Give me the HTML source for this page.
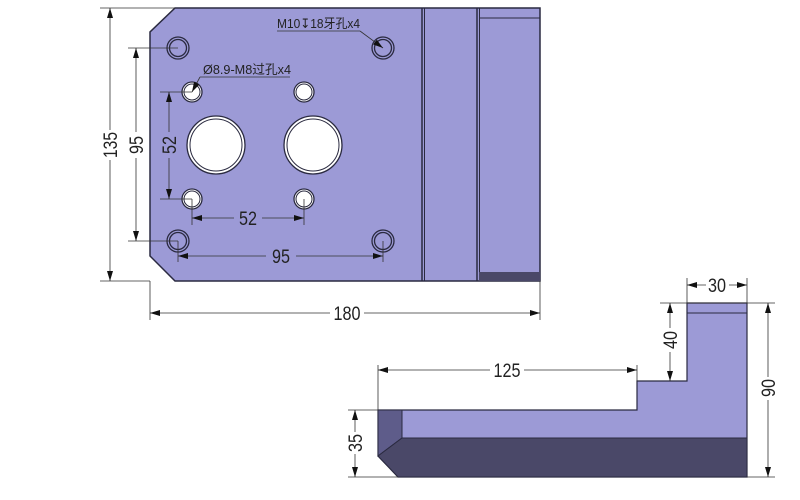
<!DOCTYPE html>
<html><head><meta charset="utf-8"><style>
html,body{margin:0;padding:0;background:#fff;}
svg{display:block;}
text{font-family:"Liberation Sans","Noto Sans CJK SC",sans-serif;fill:#222;}
</style></head><body>
<svg width="800" height="500" viewBox="0 0 800 500" xmlns="http://www.w3.org/2000/svg">
<defs>
<marker id="a" viewBox="0 0 10 6" refX="10" refY="3" markerWidth="10" markerHeight="6" orient="auto-start-reverse" markerUnits="userSpaceOnUse"><path d="M0,0 L10,3 L0,6 z" fill="#111"/></marker>
</defs>
<path d="M175,8 L540,8 L540,281 L175,281 L150,256 L150,32 Z" fill="#9c9ad6" stroke="#2a2a40" stroke-width="1.5"/>
<line x1="422" y1="8" x2="422" y2="281" stroke="#2a2a40" stroke-width="1.5"/>
<line x1="424.5" y1="8" x2="424.5" y2="281" stroke="#2a2a40" stroke-width="1"/>
<line x1="477" y1="8" x2="477" y2="281" stroke="#2a2a40" stroke-width="1.5"/>
<line x1="479.5" y1="8" x2="479.5" y2="281" stroke="#2a2a40" stroke-width="1"/>
<line x1="479" y1="18" x2="540" y2="18" stroke="#2a2a40" stroke-width="1"/>
<rect x="479" y="272" width="61" height="9" fill="#4a4868"/>
<g fill="none" stroke="#2a2a40" stroke-width="1.3">
<circle cx="178" cy="48" r="11"/><circle cx="178" cy="48" r="8.5"/>
<circle cx="383" cy="48" r="11"/><circle cx="383" cy="48" r="8.5"/>
<circle cx="178" cy="241" r="11"/><circle cx="178" cy="241" r="8.5"/>
<circle cx="383" cy="241" r="11"/><circle cx="383" cy="241" r="8.5"/>
</g>
<g fill="#fff" stroke="#2a2a40" stroke-width="1.3">
<circle cx="192" cy="92" r="10"/><circle cx="304" cy="92" r="10"/>
<circle cx="192" cy="199" r="10"/><circle cx="304" cy="199" r="10"/>
<circle cx="216" cy="145" r="29"/><circle cx="313" cy="145" r="29"/>
</g>
<g fill="none" stroke="#2a2a40" stroke-width="1">
<circle cx="216" cy="145" r="26"/><circle cx="313" cy="145" r="26"/>
<circle cx="192" cy="92" r="8"/><circle cx="304" cy="92" r="8"/>
<circle cx="192" cy="199" r="8"/><circle cx="304" cy="199" r="8"/>
</g>
<g stroke="#333" stroke-width="0.8" fill="none">
<line x1="100" y1="8" x2="175" y2="8"/><line x1="100" y1="281" x2="150" y2="281"/>
<line x1="128" y1="48" x2="178" y2="48"/><line x1="128" y1="241" x2="178" y2="241"/>
<line x1="160" y1="92" x2="192" y2="92"/><line x1="160" y1="199" x2="192" y2="199"/>
<line x1="192" y1="199" x2="192" y2="225"/><line x1="304" y1="199" x2="304" y2="225"/>
<line x1="178" y1="241" x2="178" y2="262"/><line x1="383" y1="241" x2="383" y2="262"/>
<line x1="150" y1="281" x2="150" y2="320"/><line x1="540" y1="281" x2="540" y2="320"/>
<line x1="110" y1="8" x2="110" y2="130" marker-start="url(#a)"/><line x1="110" y1="160" x2="110" y2="281" marker-end="url(#a)"/>
<line x1="136" y1="48" x2="136" y2="132" marker-start="url(#a)"/><line x1="136" y1="158" x2="136" y2="241" marker-end="url(#a)"/>
<line x1="169" y1="92" x2="169" y2="132" marker-start="url(#a)"/><line x1="169" y1="158" x2="169" y2="199" marker-end="url(#a)"/>
<line x1="192" y1="218" x2="234" y2="218" marker-start="url(#a)"/><line x1="262" y1="218" x2="304" y2="218" marker-end="url(#a)"/>
<line x1="178" y1="256" x2="266" y2="256" marker-start="url(#a)"/><line x1="296" y1="256" x2="383" y2="256" marker-end="url(#a)"/>
<line x1="150" y1="313" x2="330" y2="313" marker-start="url(#a)"/><line x1="364" y1="313" x2="540" y2="313" marker-end="url(#a)"/>
<line x1="277" y1="31" x2="360" y2="31"/><line x1="360" y1="31" x2="383" y2="48" marker-end="url(#a)"/>
<line x1="200" y1="77" x2="290" y2="77"/><line x1="200" y1="77" x2="192" y2="92" marker-end="url(#a)"/>
</g>
<g font-size="19" text-anchor="middle" lengthAdjust="spacingAndGlyphs">
<text transform="translate(117,145) rotate(-90)" textLength="26" lengthAdjust="spacingAndGlyphs">135</text>
<text transform="translate(143,145) rotate(-90)" textLength="18" lengthAdjust="spacingAndGlyphs">95</text>
<text transform="translate(176,145) rotate(-90)" textLength="18" lengthAdjust="spacingAndGlyphs">52</text>
<text x="248" y="225" textLength="18" lengthAdjust="spacingAndGlyphs">52</text>
<text x="281" y="263" textLength="18" lengthAdjust="spacingAndGlyphs">95</text>
<text x="347" y="320" textLength="27" lengthAdjust="spacingAndGlyphs">180</text>
</g>
<text x="277" y="28" font-size="13" textLength="83" lengthAdjust="spacingAndGlyphs">M10↧18牙孔x4</text>
<text x="203" y="74" font-size="13" textLength="88" lengthAdjust="spacingAndGlyphs">Ø8.9-M8过孔x4</text>
<path d="M378,410 L637,410 L637,381 L687,381 L687,303 L747,303 L747,477 L398,477 L378,456 Z" fill="#9c9ad6" stroke="#2a2a40" stroke-width="1.2"/>
<path d="M378,410 L402,410 L402,438 L378,456 Z" fill="#5e5c8a" stroke="#2a2a40" stroke-width="1"/>
<path d="M378,456 L402,438 L747,438 L747,477 L398,477 Z" fill="#4a4868" stroke="#2a2a40" stroke-width="1"/>
<line x1="687" y1="313" x2="747" y2="313" stroke="#2a2a40" stroke-width="1"/>
<g stroke="#333" stroke-width="0.8" fill="none">
<line x1="687" y1="278" x2="687" y2="303"/><line x1="747" y1="278" x2="747" y2="303"/>
<line x1="660" y1="303" x2="775" y2="303"/><line x1="747" y1="477" x2="775" y2="477"/>
<line x1="378" y1="365" x2="378" y2="410"/><line x1="637" y1="365" x2="637" y2="381"/>
<line x1="348" y1="410" x2="378" y2="410"/><line x1="348" y1="477" x2="398" y2="477"/>
<line x1="687" y1="285" x2="706" y2="285" marker-start="url(#a)"/><line x1="729" y1="285" x2="747" y2="285" marker-end="url(#a)"/>
<line x1="670" y1="303" x2="670" y2="328" marker-start="url(#a)"/><line x1="670" y1="352" x2="670" y2="381" marker-end="url(#a)"/>
<line x1="378" y1="370" x2="490" y2="370" marker-start="url(#a)"/><line x1="524" y1="370" x2="637" y2="370" marker-end="url(#a)"/>
<line x1="355" y1="410" x2="355" y2="432" marker-start="url(#a)"/><line x1="355" y1="454" x2="355" y2="477" marker-end="url(#a)"/>
<line x1="768" y1="303" x2="768" y2="377" marker-start="url(#a)"/><line x1="768" y1="400" x2="768" y2="477" marker-end="url(#a)"/>
</g>
<g font-size="19" text-anchor="middle">
<text x="717" y="292" textLength="18" lengthAdjust="spacingAndGlyphs">30</text>
<text transform="translate(677,340) rotate(-90)" textLength="18" lengthAdjust="spacingAndGlyphs">40</text>
<text x="507" y="377" textLength="27" lengthAdjust="spacingAndGlyphs">125</text>
<text transform="translate(362,443) rotate(-90)" textLength="18" lengthAdjust="spacingAndGlyphs">35</text>
<text transform="translate(775,388) rotate(-90)" textLength="18" lengthAdjust="spacingAndGlyphs">90</text>
</g>
</svg>
</body></html>
